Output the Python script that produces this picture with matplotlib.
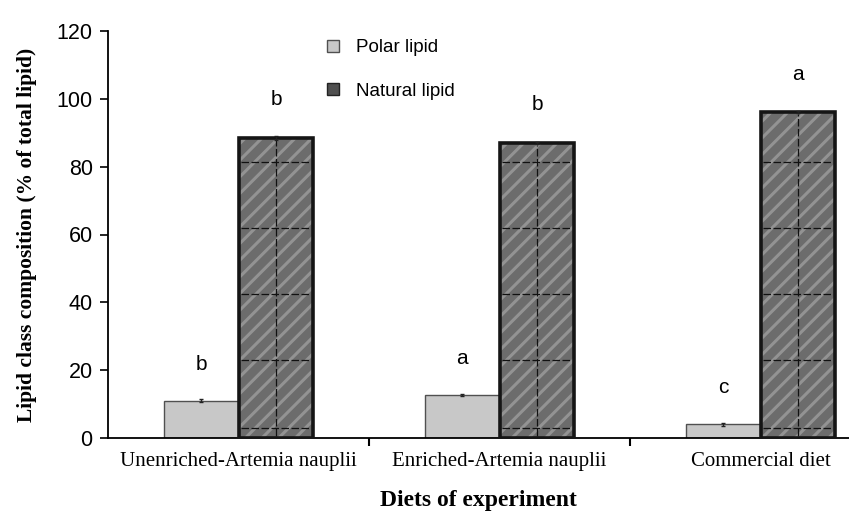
import numpy as np
import matplotlib
matplotlib.use("Agg")
import matplotlib.pyplot as plt
from matplotlib.patches import Patch

# data
diets = ["Unenriched-Artemia nauplii", "Enriched-Artemia nauplii", "Commercial diet"]
polar = [11.0, 12.7, 4.0]
polar_err = [0.4, 0.4, 0.4]
natural = [88.5, 87.0, 96.0]
natural_err = [0.6, 0.4, 0.3]
polar_letters = ["b", "a", "c"]
natural_letters = ["b", "b", "a"]

# dashed lines drawn inside the natural-lipid bars
inner_lines = [3, 23, 42.5, 62, 81.5]

plt.rcParams['hatch.linewidth'] = 2.2

fig = plt.figure(figsize=(8.49, 5.15), dpi=100)
ax = fig.add_axes([108/849, 77/515, 741/849, 407/515])

x = np.arange(len(diets))
w = 0.287

ax.bar(x - w/2, polar, w, color='#c8c8c8', edgecolor='#505050', linewidth=1.0, zorder=2)
# hatch takes the edge colour, so fill first and draw the black outline on top
ax.bar(x + w/2, natural, w, color='#6c6c6c', edgecolor='#939393', linewidth=0,
       hatch='//', zorder=2)
ax.bar(x + w/2, natural, w, fill=False, edgecolor='#151515', linewidth=2.6, zorder=4)
ax.errorbar(x - w/2, polar, yerr=polar_err, fmt='none', ecolor='#222222', elinewidth=1,
            capsize=1.5, zorder=3)
ax.errorbar(x + w/2, natural, yerr=natural_err, fmt='none', ecolor='#222222', elinewidth=1,
            capsize=1.5, zorder=5)

# the dashed grid inside the dark bars
for xi, h in zip(x, natural):
    for yl in inner_lines:
        if yl < h:
            ax.plot([xi + 0.01, xi + w - 0.01], [yl, yl], color='#111111', lw=0.9,
                    ls=(0, (6, 2)), zorder=3)
    ax.plot([xi + w/2, xi + w/2], [0.5, h - 0.5], color='#111111', lw=0.9,
            ls=(0, (6, 2)), zorder=3)

for xi, h, lt in zip(x, polar, polar_letters):
    ax.text(xi - w/2, h + 8, lt, ha='center', va='bottom', fontsize=15,
            family='Liberation Sans')
for xi, h, lt in zip(x, natural, natural_letters):
    ax.text(xi + w/2, h + 8.5, lt, ha='center', va='bottom', fontsize=15,
            family='Liberation Sans')

ax.set_xlim(-0.5, -0.5 + 741/261)
ax.set_ylim(0, 120)
ax.set_yticks(np.arange(0, 121, 20))
ax.tick_params(axis='y', labelsize=15.5, length=6, width=1.2, direction='out', pad=5)
for lbl in ax.get_yticklabels():
    lbl.set_family('Liberation Sans')

ax.set_xticks(x)
ax.set_xticklabels(diets, family='Liberation Serif', fontsize=15)
ax.tick_params(axis='x', length=0, pad=10)
ax.set_xticks([0.5, 1.5], minor=True)
ax.tick_params(axis='x', which='minor', length=6, width=1.5, direction='out')

for s in ['top', 'right']:
    ax.spines[s].set_visible(False)
ax.spines['left'].set_linewidth(1.3)
ax.spines['bottom'].set_linewidth(1.3)

ax.set_ylabel("Lipid class composition (% of total lipid)", family='Liberation Serif',
              fontweight='bold', fontsize=15.5, labelpad=14)
ax.set_xlabel("Diets of experiment", family='Liberation Serif', fontweight='bold',
              fontsize=17, labelpad=14)

handles = [Patch(facecolor='#c8c8c8', edgecolor='#505050'),
           Patch(facecolor='#505050', edgecolor='#222222')]
leg = ax.legend(handles, ["Polar lipid", "Natural lipid"], loc='upper left',
                bbox_to_anchor=(318/849, 1 - 30/515), bbox_transform=fig.transFigure,
                frameon=False, borderpad=0, handlelength=0.6, handleheight=0.6,
                labelspacing=1.4, handletextpad=0.9,
                prop={'family': 'Liberation Sans', 'size': 13.5})

fig.savefig("out.png", dpi=100)
